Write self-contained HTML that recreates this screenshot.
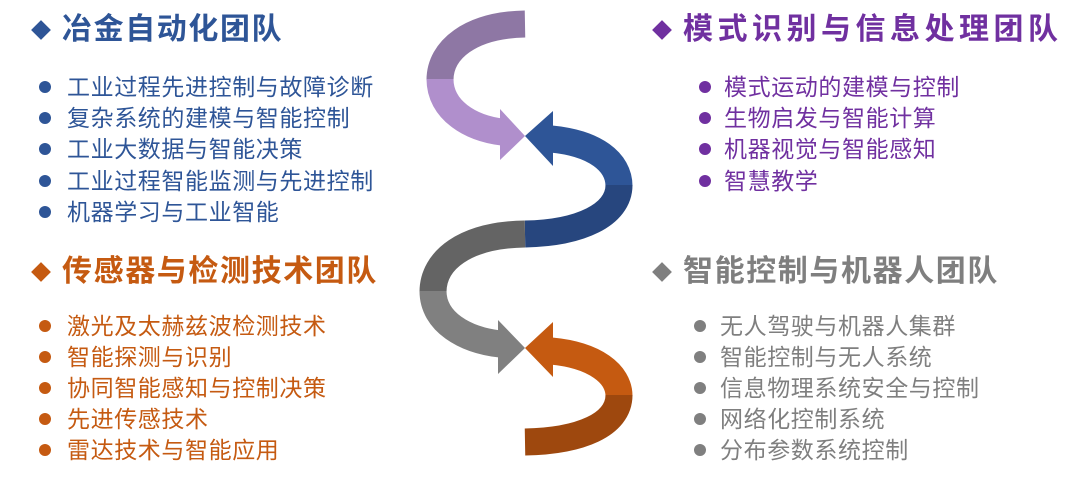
<!DOCTYPE html>
<html><head><meta charset="utf-8"><style>
body{margin:0;width:1080px;height:479px;background:#fff;position:relative;overflow:hidden;font-family:"Liberation Sans","Noto Sans CJK SC",sans-serif}
.h{position:absolute;font-size:30px;font-weight:bold;letter-spacing:1.6px;line-height:36px;white-space:nowrap}
.i{position:absolute;font-size:23px;letter-spacing:0.6px;line-height:30px;white-space:nowrap}
.d{position:absolute;width:14px;height:14px;transform:rotate(45deg)}
.b{position:absolute;width:12px;height:12px;border-radius:50%}
</style></head><body>
<svg width="1080" height="479" style="position:absolute;left:0;top:0">
<g fill="none" stroke-width="27">
<path d="M525,24 C470,25 440,50 440,80" stroke="#8e77a4"/>
<path d="M440,79 C440,110 470,128 502,132" stroke="#b08fcc"/>
<path d="M551,139 C595,143 619,162 619,186" stroke="#2e5597"/>
<path d="M619,185 C619,215 580,233 525,234" stroke="#27467e"/>
<path d="M525,234 C465,235 433,260 433,292" stroke="#646464"/>
<path d="M433,291 C433,322 465,340 500,344" stroke="#808080"/>
<path d="M551,351 C595,355 619,374 619,396" stroke="#c55a11"/>
<path d="M619,395 C619,425 580,441 525,442" stroke="#9e480e"/>
</g>
<polygon points="500,109 525,136 500,160" fill="#b08fcc"/>
<polygon points="553,111 525,136 553,166" fill="#2e5597"/>
<polygon points="498,320 525,348 498,374" fill="#808080"/>
<polygon points="553,322 525,348 553,377" fill="#c55a11"/>
</svg>

<div class="d" style="left:34px;top:23px;background:#2e5597"></div>
<div class="h" style="left:62px;top:12px;color:#2e5597">冶金自动化团队</div>
<div class="b" style="left:39px;top:81px;background:#2e5597"></div><div class="i" style="left:67px;top:72px;color:#2e5597">工业过程先进控制与故障诊断</div>
<div class="b" style="left:39px;top:112px;background:#2e5597"></div><div class="i" style="left:67px;top:103px;color:#2e5597">复杂系统的建模与智能控制</div>
<div class="b" style="left:39px;top:143px;background:#2e5597"></div><div class="i" style="left:67px;top:134px;color:#2e5597">工业大数据与智能决策</div>
<div class="b" style="left:39px;top:175px;background:#2e5597"></div><div class="i" style="left:67px;top:166px;color:#2e5597">工业过程智能监测与先进控制</div>
<div class="b" style="left:39px;top:206px;background:#2e5597"></div><div class="i" style="left:67px;top:197px;color:#2e5597">机器学习与工业智能</div>

<div class="d" style="left:34px;top:265px;background:#c55a11"></div>
<div class="h" style="left:62px;top:254px;color:#c55a11">传感器与检测技术团队</div>
<div class="b" style="left:39px;top:320px;background:#c55a11"></div><div class="i" style="left:67px;top:311px;color:#c55a11">激光及太赫兹波检测技术</div>
<div class="b" style="left:39px;top:351px;background:#c55a11"></div><div class="i" style="left:67px;top:342px;color:#c55a11">智能探测与识别</div>
<div class="b" style="left:39px;top:382px;background:#c55a11"></div><div class="i" style="left:67px;top:373px;color:#c55a11">协同智能感知与控制决策</div>
<div class="b" style="left:39px;top:413px;background:#c55a11"></div><div class="i" style="left:67px;top:404px;color:#c55a11">先进传感技术</div>
<div class="b" style="left:39px;top:444px;background:#c55a11"></div><div class="i" style="left:67px;top:435px;color:#c55a11">雷达技术与智能应用</div>

<div class="d" style="left:655px;top:23px;background:#7030a0"></div>
<div class="h" style="left:683px;top:12px;color:#7030a0;letter-spacing:4.5px">模式识别与信息处理团队</div>
<div class="b" style="left:699px;top:81px;background:#7030a0"></div><div class="i" style="left:724px;top:72px;color:#7030a0">模式运动的建模与控制</div>
<div class="b" style="left:699px;top:112px;background:#7030a0"></div><div class="i" style="left:724px;top:103px;color:#7030a0">生物启发与智能计算</div>
<div class="b" style="left:699px;top:143px;background:#7030a0"></div><div class="i" style="left:724px;top:134px;color:#7030a0">机器视觉与智能感知</div>
<div class="b" style="left:699px;top:175px;background:#7030a0"></div><div class="i" style="left:724px;top:166px;color:#7030a0">智慧教学</div>

<div class="d" style="left:655px;top:265px;background:#7f7f7f"></div>
<div class="h" style="left:683px;top:254px;color:#7f7f7f">智能控制与机器人团队</div>
<div class="b" style="left:694px;top:320px;background:#7f7f7f"></div><div class="i" style="left:720px;top:311px;color:#7f7f7f">无人驾驶与机器人集群</div>
<div class="b" style="left:694px;top:351px;background:#7f7f7f"></div><div class="i" style="left:720px;top:342px;color:#7f7f7f">智能控制与无人系统</div>
<div class="b" style="left:694px;top:382px;background:#7f7f7f"></div><div class="i" style="left:720px;top:373px;color:#7f7f7f">信息物理系统安全与控制</div>
<div class="b" style="left:694px;top:413px;background:#7f7f7f"></div><div class="i" style="left:720px;top:404px;color:#7f7f7f">网络化控制系统</div>
<div class="b" style="left:694px;top:444px;background:#7f7f7f"></div><div class="i" style="left:720px;top:435px;color:#7f7f7f">分布参数系统控制</div>
</body></html>
